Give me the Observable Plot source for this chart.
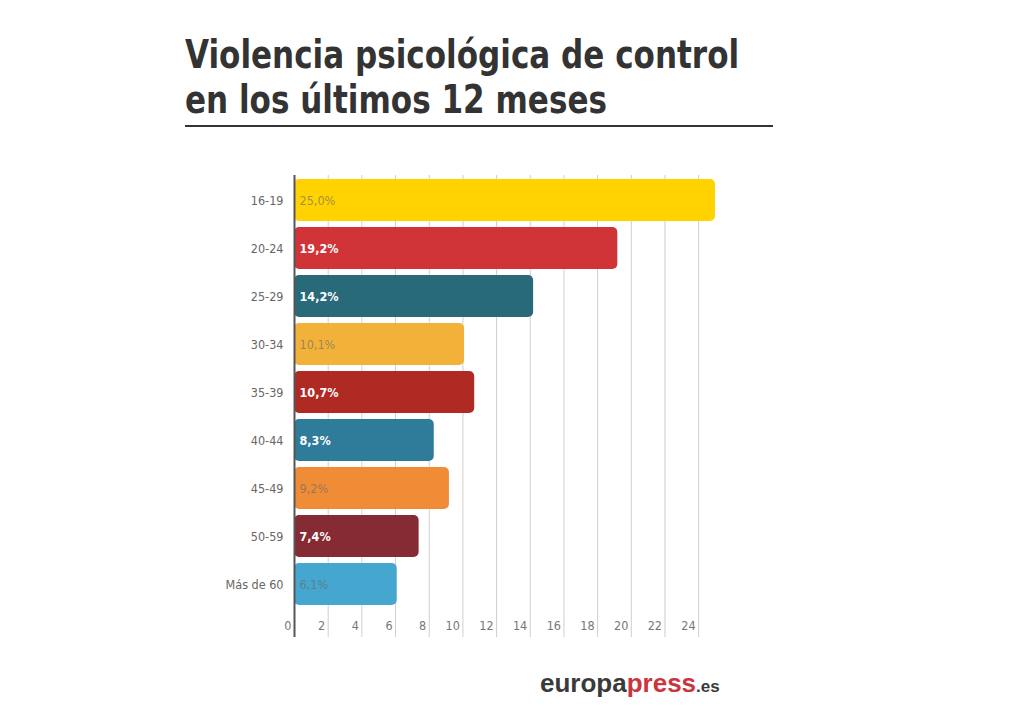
<!DOCTYPE html>
<html>
<head>
<meta charset="utf-8">
<script src="https://cdn.jsdelivr.net/npm/d3@7"></script>
<script src="https://cdn.jsdelivr.net/npm/@observablehq/plot@0.6"></script>
<style>
  html, body { margin: 0; padding: 0; background: #fff; width: 1024px; height: 711px; overflow: hidden; }
  #title { position: absolute; left: 185px; top: 32px; font-family: "Liberation Sans Narrow", "DejaVu Sans Condensed", "Liberation Sans", sans-serif; font-weight: 700; font-size: 39px; line-height: 45px; color: #333; margin: 0; white-space: nowrap; transform: scaleX(0.885); transform-origin: 0 0; }
  #rule { position: absolute; left: 185px; top: 125px; width: 588px; height: 2px; background: #333; }
  #chart { position: absolute; left: 0; top: 150px; }
  #logo { position: absolute; left: 540px; top: 668px; font-family: "Liberation Sans", Arial, sans-serif; font-weight: 700; font-size: 26px; line-height: 30px; color: #3a3a3a; white-space: nowrap; }
  #logo .press { color: #c9363e; }
  #logo .es { font-size: 17px; }
</style>
</head>
<body>
<div id="title">Violencia psicológica de control<br>en los últimos 12 meses</div>
<div id="rule"></div>
<div id="chart"></div>
<div id="logo">europa<span class="press">press</span><span class="es">.es</span></div>
<script>
const categories = ["16-19", "20-24", "25-29", "30-34", "35-39", "40-44", "45-49", "50-59", "Más de 60"];
const values = [25.0, 19.2, 14.2, 10.1, 10.7, 8.3, 9.2, 7.4, 6.1];
const labels = ["25,0%", "19,2%", "14,2%", "10,1%", "10,7%", "8,3%", "9,2%", "7,4%", "6,1%"];
const colors = ["#FFD200", "#D03438", "#286A7A", "#F2B23A", "#B02A24", "#2E7C9A", "#F08C35", "#862A33", "#45A6CF"];
const darkBar = [false, true, true, false, true, true, false, true, false];
const xTicks = [0, 2, 4, 6, 8, 10, 12, 14, 16, 18, 20, 22, 24];

const data = categories.map((c, i) => ({cat: c, value: values[i], label: labels[i], color: colors[i], dark: darkBar[i]}));

const font = '"Liberation Sans Narrow", "DejaVu Sans Condensed", "Liberation Sans", sans-serif';

const chart = Plot.plot({
  width: 1024,
  height: 500,
  marginLeft: 294,
  marginRight: 309,
  marginTop: 25,
  marginBottom: 13,
  style: {fontFamily: font, fontSize: "12px", color: "#666", background: "transparent"},
  x: {domain: [0, 25], axis: null},
  y: {domain: categories, range: [26, 458], paddingInner: 0.125, paddingOuter: 0.0625, axis: null},
  marks: [
    Plot.ruleX(xTicks.filter(d => d > 0), {stroke: "#cfcfcf", strokeWidth: 1}),
    Plot.barX(data, {y: "cat", x: "value", fill: "color", rx: 5}),
    Plot.ruleX([0], {stroke: "#555", strokeWidth: 2}),
    Plot.text(data.filter(d => d.dark), {y: "cat", x: 0, text: "label", dx: 5, textAnchor: "start", fill: "#fff", fontWeight: "bold", fontSize: 12.5}),
    Plot.text(data.filter(d => !d.dark), {y: "cat", x: 0, text: "label", dx: 5, textAnchor: "start", fill: "#6a6a6a", fillOpacity: 0.65, fontSize: 12.5}),
    Plot.axisY({tickSize: 0, tickPadding: 11, fill: "#666", fontSize: 12.5, label: null}),
    Plot.axisX({ticks: xTicks, anchor: "bottom", tickSize: 0, tickPadding: 0, dy: -16, dx: -3, textAnchor: "end", fill: "#777", fontSize: 12.5, label: null})
  ]
});
document.getElementById("chart").appendChild(chart);
</script>
</body>
</html>
